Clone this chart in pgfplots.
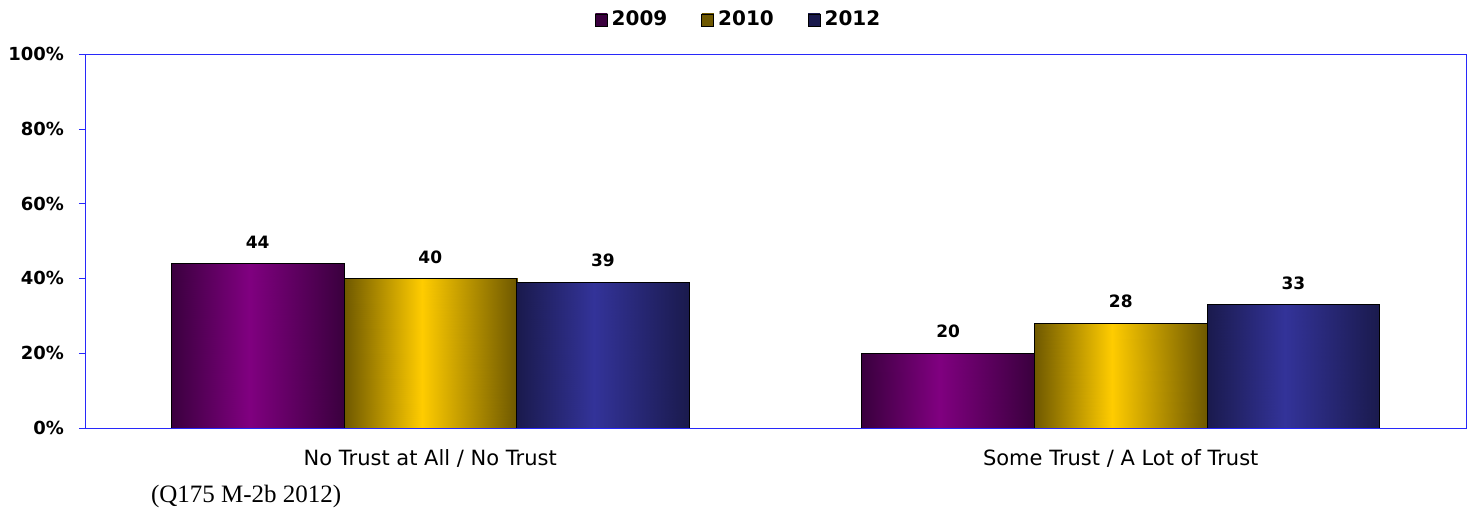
\documentclass[border=0pt]{standalone}
\usepackage{pgfplots}
\pgfplotsset{compat=1.18}
\usepackage{fontspec}
\setmainfont{DejaVu Sans}
\newfontfamily\seriffont{Liberation Serif}
\definecolor{axblue}{RGB}{40,40,250}
\definecolor{purpM}{RGB}{128,0,128}
\definecolor{purpD}{RGB}{58,0,62}
\definecolor{yelM}{RGB}{255,204,0}
\definecolor{yelD}{RGB}{110,88,0}
\definecolor{bluM}{RGB}{51,51,153}
\definecolor{bluD}{RGB}{26,26,77}
\begin{document}
\begin{tikzpicture}
\path (-42.5pt,-39pt) rectangle (694.5pt,214pt);
\begin{axis}[
  at={(0,0)}, anchor=south west,
  scale only axis, width=690.5pt, height=187pt,
  xmin=-0.5, xmax=1.5, ymin=0, ymax=100,
  ybar, bar width=0.25,
  /pgf/number format/assume math mode=true,
  axis line style={draw=axblue},
  xtick={0,1},
  xticklabels={No Trust at All / No Trust, Some Trust / A Lot of Trust},
  major x tick style={draw=none},
  xticklabel style={font=\fontsize{10.5}{12}\selectfont, yshift=-4pt},
  ytick={0,20,...,100},
  yticklabel={\pgfmathprintnumber{\tick}\%},
  yticklabel style={font=\bfseries\fontsize{9}{11}\selectfont, xshift=-4pt},
  ytick pos=left,
  tick align=outside,
  major tick length=3pt,
  major y tick style={draw=axblue},
  colormap={bars}{color(0)=(purpD) color(1)=(purpM) color(2)=(yelD) color(3)=(yelM) color(4)=(bluD) color(5)=(bluM)},
  point meta min=0, point meta max=5,
  legend columns=-1,
  legend style={at={(0.474,1)}, anchor=center, yshift=17pt, draw=none,
    font=\bfseries\fontsize{10}{12}\selectfont,
    /tikz/every even column/.append style={column sep=15pt}},
]
% shaded fills (gradient across each bar)
\addplot[patch, patch type=rectangle, shader=interp, point meta=explicit, forget plot] coordinates {
 (-0.375,0) [0] (-0.2625,0) [1] (-0.2625,44) [1] (-0.375,44) [0]
 (-0.2625,0) [1] (-0.125,0) [0] (-0.125,44) [0] (-0.2625,44) [1]
 (0.625,0) [0] (0.7375,0) [1] (0.7375,20) [1] (0.625,20) [0]
 (0.7375,0) [1] (0.875,0) [0] (0.875,20) [0] (0.7375,20) [1]
};
\addplot[patch, patch type=rectangle, shader=interp, point meta=explicit, forget plot] coordinates {
 (-0.125,0) [2] (-0.0125,0) [3] (-0.0125,40) [3] (-0.125,40) [2]
 (-0.0125,0) [3] (0.125,0) [2] (0.125,40) [2] (-0.0125,40) [3]
 (0.875,0) [2] (0.9875,0) [3] (0.9875,28) [3] (0.875,28) [2]
 (0.9875,0) [3] (1.125,0) [2] (1.125,28) [2] (0.9875,28) [3]
};
\addplot[patch, patch type=rectangle, shader=interp, point meta=explicit, forget plot] coordinates {
 (0.125,0) [4] (0.2375,0) [5] (0.2375,39) [5] (0.125,39) [4]
 (0.2375,0) [5] (0.375,0) [4] (0.375,39) [4] (0.2375,39) [5]
 (1.125,0) [4] (1.2375,0) [5] (1.2375,33) [5] (1.125,33) [4]
 (1.2375,0) [5] (1.375,0) [4] (1.375,33) [4] (1.2375,33) [5]
};
% bar outlines and labels
\pgfplotsset{every axis plot/.append style={draw=black, fill=none, line width=0.4pt,
  nodes near coords, point meta=y,
  nodes near coords style={font=\bfseries\fontsize{8.5}{10}\selectfont, anchor=south, yshift=4pt, text=black}}}
\addplot[bar shift=-0.25,
  legend image code/.code={\draw[draw=black, left color=purpD, middle color=purpM, right color=purpD] (0pt,-3pt) rectangle (6pt,3pt);}]
  coordinates {(0,44) (1,20)};
\addplot[bar shift=0,
  legend image code/.code={\draw[draw=black, left color=yelD, middle color=yelM, right color=yelD] (0pt,-3pt) rectangle (6pt,3pt);}]
  coordinates {(0,40) (1,28)};
\addplot[bar shift=0.25,
  legend image code/.code={\draw[draw=black, left color=bluD, middle color=bluM, right color=bluD] (0pt,-3pt) rectangle (6pt,3pt);}]
  coordinates {(0,39) (1,33)};
\legend{2009,2010,2012}
\end{axis}
\node[anchor=west, font=\seriffont\fontsize{12.5}{14}\selectfont] at (29.5pt,-34pt) {(Q175 M-2b 2012)};
\end{tikzpicture}
\end{document}
